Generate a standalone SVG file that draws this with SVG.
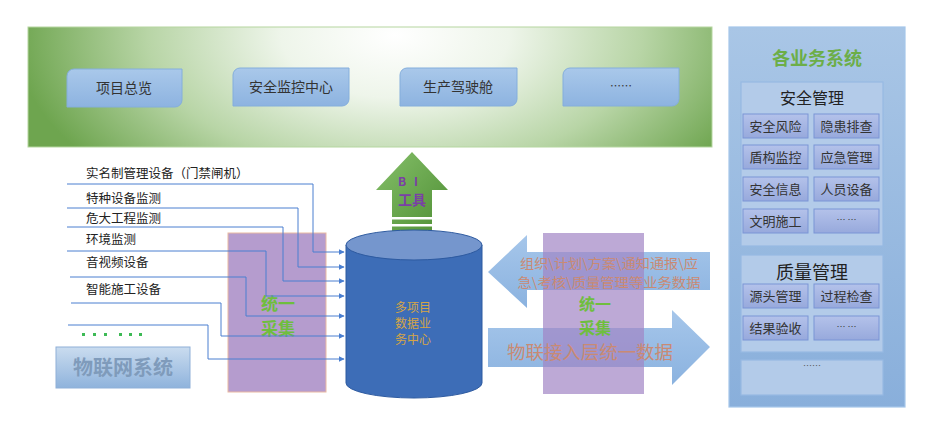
<svg xmlns="http://www.w3.org/2000/svg" width="929" height="430" viewBox="0 0 929 430">
<defs>
<radialGradient id="gTop" gradientUnits="userSpaceOnUse" cx="395" cy="35" r="380" gradientTransform="translate(0,35) scale(1,0.55) translate(0,-35)">
<stop offset="0" stop-color="#ffffff"/>
<stop offset="0.3" stop-color="#eef5ea"/>
<stop offset="0.65" stop-color="#b8d5a6"/>
<stop offset="1" stop-color="#6ea54f"/>
</radialGradient>
<linearGradient id="gBox" x1="0" y1="0" x2="0" y2="1">
<stop offset="0" stop-color="#a9c8ea"/>
<stop offset="1" stop-color="#8db3e0"/>
</linearGradient>
<linearGradient id="gRight" x1="0" y1="0" x2="0" y2="1">
<stop offset="0" stop-color="#a9c6e6"/>
<stop offset="1" stop-color="#89afdb"/>
</linearGradient>
<linearGradient id="gItem" x1="0" y1="0" x2="0" y2="1">
<stop offset="0" stop-color="#b4c2ea"/>
<stop offset="1" stop-color="#97a9dc"/>
</linearGradient>
<linearGradient id="gIot" x1="0" y1="0" x2="0" y2="1">
<stop offset="0" stop-color="#cadcef"/>
<stop offset="1" stop-color="#8fb3dc"/>
</linearGradient>
<linearGradient id="gBI" x1="0" y1="0" x2="1" y2="1">
<stop offset="0" stop-color="#86c06a"/>
<stop offset="1" stop-color="#4f8f35"/>
</linearGradient>
<linearGradient id="gArr" x1="0" y1="0" x2="0" y2="1">
<stop offset="0" stop-color="#9cc0e8"/>
<stop offset="1" stop-color="#7eaadc"/>
</linearGradient>
<marker id="ah" viewBox="0 0 10 10" refX="9" refY="5" markerWidth="6" markerHeight="6" orient="auto" markerUnits="userSpaceOnUse">
<path d="M0,0 L10,5 L0,10 z" fill="#4a7fd0"/>
</marker>
<style>
text{font-family:"Noto Sans CJK SC","Noto Sans",sans-serif;}
.lbl{font-size:12.5px;fill:#222;}
.top{font-size:14px;fill:#333;text-anchor:middle;}
.it{font-size:13px;fill:#333;text-anchor:middle;}
.itbox{fill:url(#gItem);stroke:#7b95d6;stroke-width:1;}
.sub{fill:#b3cbe9;stroke:#97b9e3;stroke-width:1.2;}
.conn{fill:none;stroke:#4a7fd0;stroke-width:1;marker-end:url(#ah);}
.green{fill:#6fbe3e;font-weight:bold;font-size:17px;text-anchor:middle;}
.arrtxt{fill:#c98a73;text-anchor:middle;}
.purple{fill:#a88bc6;fill-opacity:0.85;}
.cyl{font-size:12px;fill:#d6a546;text-anchor:middle;}
</style>
</defs>

<!-- top panel -->
<g id="top-panel">
<rect x="28" y="27" width="684" height="120" fill="url(#gTop)" stroke="#b5d6a0" stroke-width="1"/>
</g>
<g id="n-xmzl">
<path d="M74,69 H182 V100 A7,7 0 0 1 175,107 H67 V76 A7,7 0 0 1 74,69 Z" fill="url(#gBox)" stroke="#84aedc"/>
<text class="top" x="124" y="93">项目总览</text>
</g>
<g id="n-aqjk">
<path d="M240,68 H349 V99 A7,7 0 0 1 342,106 H233 V75 A7,7 0 0 1 240,68 Z" fill="url(#gBox)" stroke="#84aedc"/>
<text class="top" x="291" y="92">安全监控中心</text>
</g>
<g id="n-scjsc">
<path d="M407,68 H517 V99 A7,7 0 0 1 510,106 H400 V75 A7,7 0 0 1 407,68 Z" fill="url(#gBox)" stroke="#84aedc"/>
<text class="top" x="458" y="92">生产驾驶舱</text>
</g>
<g id="n-more-top">
<path d="M570,68 H679 V99 A7,7 0 0 1 672,106 H563 V75 A7,7 0 0 1 570,68 Z" fill="url(#gBox)" stroke="#84aedc"/>
<text class="top" x="621" y="90" style="font-size:11px">……</text>
</g>

<!-- left purple collect -->
<g id="collect-left">
<rect x="228" y="233" width="98" height="159" class="purple" stroke="#eab9a2" stroke-width="1"/>
<text class="green" x="278" y="310">统一</text>
<text class="green" x="278" y="335">采集</text>
</g>

<!-- left labels -->
<g id="iot-labels">
<text class="lbl" x="86" y="178">实名制管理设备（门禁闸机）</text>
<text class="lbl" x="86" y="203">特种设备监测</text>
<text class="lbl" x="86" y="223">危大工程监测</text>
<text class="lbl" x="86" y="244">环境监测</text>
<text class="lbl" x="86" y="267">音视频设备</text>
<text class="lbl" x="86" y="294">智能施工设备</text>
<g fill="#3dba55">
<rect x="82" y="333" width="3" height="3"/><rect x="93" y="333" width="3" height="3"/><rect x="104" y="333" width="3" height="3"/>
<rect x="119" y="333" width="3" height="3"/><rect x="129" y="333" width="3" height="3"/><rect x="139" y="333" width="3" height="3"/>
</g>
</g>

<g id="connectors">
<polyline class="conn" points="67,184 313,184 313,252 344,252"/>
<polyline class="conn" points="67,208 298,208 298,267 344,267"/>
<polyline class="conn" points="67,227 283,227 283,281 344,281"/>
<polyline class="conn" points="67,251 266,251 266,296 344,296"/>
<polyline class="conn" points="70,277 246,277 246,316 344,316"/>
<polyline class="conn" points="71,303 221,303 221,336 344,336"/>
<polyline class="conn" points="68,325 208,325 208,359 344,359"/>
</g>

<g id="iot-system">
<rect x="56" y="347" width="134" height="41" fill="url(#gIot)" stroke="#8fb0d8"/>
<text x="123" y="375" text-anchor="middle" style="font-size:20px;fill:#7f9bbb;font-weight:bold">物联网系统</text>
</g>

<!-- BI arrow -->
<g id="bi-tool">
<path d="M412,152 L448,190 L432,190 L432,231 L392,231 L392,190 L376,190 Z" fill="url(#gBI)"/>
<rect x="392" y="217" width="40" height="2.5" fill="#ffffff"/>
<rect x="392" y="224" width="40" height="2.5" fill="#ffffff"/>
<text x="412" y="186" text-anchor="middle" style="font-size:12px;font-weight:bold;fill:#7a3fa6;letter-spacing:8px">BI</text>
<text x="412" y="205" text-anchor="middle" style="font-size:14px;font-weight:bold;fill:#7a3fa6">工具</text>
</g>

<!-- cylinder -->
<g id="data-center">
<path d="M346,245 V383 A68,15 0 0 0 482,383 V245 Z" fill="#3d6db7" stroke="#2d5aa0" stroke-width="1"/>
<ellipse cx="414" cy="245" rx="68" ry="15" fill="#7596cd" stroke="#2d5aa0" stroke-width="1"/>
<text class="cyl" x="413" y="312">多项目</text>
<text class="cyl" x="413" y="328">数据业</text>
<text class="cyl" x="413" y="344">务中心</text>
</g>

<!-- right arrows -->
<g id="biz-arrow">
<path d="M488,272 L527,235 L527,252 L710,252 L710,290 L527,290 L527,308 Z" fill="url(#gArr)" fill-opacity="0.9"/>
</g>
<g id="iot-arrow">
<path d="M488,328 L672,328 L672,310 L710,347 L672,385 L672,367 L488,367 Z" fill="url(#gArr)" fill-opacity="0.9"/>
</g>
<g id="collect-right">
<rect x="543" y="233" width="101" height="161" fill="#a184c4" fill-opacity="0.7"/>
</g>
<g id="arrow-texts">
<text class="arrtxt" x="609" y="268" style="font-size:13px" textLength="178" lengthAdjust="spacingAndGlyphs">组织\计划\方案\通知通报\应</text>
<text class="arrtxt" x="609" y="287" style="font-size:13px" textLength="183" lengthAdjust="spacingAndGlyphs">急\考核\质量管理等业务数据</text>
<text class="arrtxt" x="590" y="359" style="font-size:18px" textLength="166" lengthAdjust="spacingAndGlyphs">物联接入层统一数据</text>
<text class="green" x="595" y="310" style="font-size:16px">统一</text>
<text class="green" x="595" y="334" style="font-size:16px">采集</text>
</g>

<!-- right panel -->
<g id="biz-systems">
<rect x="729" y="27" width="176" height="380" fill="url(#gRight)" stroke="#a5c6ea" stroke-width="1.2"/>
<text x="817" y="65" text-anchor="middle" style="font-size:18px;font-weight:bold;fill:#6cae48">各业务系统</text>
</g>
<g id="safety-mgmt">
<rect x="741" y="82" width="142" height="164" class="sub"/>
<text x="812" y="104" text-anchor="middle" style="font-size:16px;fill:#222">安全管理</text>
<rect x="743" y="114" width="65" height="24" class="itbox"/><text class="it" x="775.5" y="131">安全风险</text>
<rect x="814" y="114" width="65" height="24" class="itbox"/><text class="it" x="846.5" y="131">隐患排查</text>
<rect x="743" y="145" width="65" height="24" class="itbox"/><text class="it" x="775.5" y="162">盾构监控</text>
<rect x="814" y="145" width="65" height="24" class="itbox"/><text class="it" x="846.5" y="162">应急管理</text>
<rect x="743" y="177" width="65" height="24" class="itbox"/><text class="it" x="775.5" y="194">安全信息</text>
<rect x="814" y="177" width="65" height="24" class="itbox"/><text class="it" x="846.5" y="194">人员设备</text>
<rect x="743" y="209" width="65" height="24" class="itbox"/><text class="it" x="775.5" y="226">文明施工</text>
<rect x="814" y="209" width="65" height="24" class="itbox"/><text class="it" x="846.5" y="223" style="font-size:9px">… …</text>
</g>
<g id="quality-mgmt">
<rect x="741" y="255" width="142" height="97" class="sub"/>
<text x="812" y="279" text-anchor="middle" style="font-size:18px;fill:#222">质量管理</text>
<rect x="743" y="284" width="65" height="24" class="itbox"/><text class="it" x="775.5" y="301">源头管理</text>
<rect x="814" y="284" width="65" height="24" class="itbox"/><text class="it" x="846.5" y="301">过程检查</text>
<rect x="743" y="316" width="65" height="24" class="itbox"/><text class="it" x="775.5" y="333">结果验收</text>
<rect x="814" y="316" width="65" height="24" class="itbox"/><text class="it" x="846.5" y="330" style="font-size:9px">… …</text>
</g>
<g id="more-systems">
<rect x="741" y="360" width="142" height="35" class="sub"/>
<text x="812" y="369" text-anchor="middle" style="font-size:9px;fill:#555">……</text>
</g>
</svg>
